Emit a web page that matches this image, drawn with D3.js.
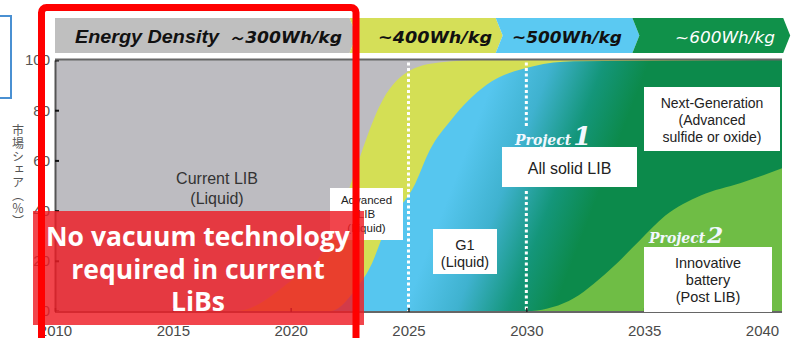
<!DOCTYPE html>
<html>
<head>
<meta charset="utf-8">
<script src="https://cdn.jsdelivr.net/npm/d3@7"></script>
<style>
  body { margin: 0; background: #fff; }
</style>
</head>
<body>
<script>
// --- data ---
var yearTicks = [2010, 2015, 2020, 2025, 2030, 2035, 2040];
var shareTicks = [0, 20, 40, 60, 80, 100];

// header bands (energy density stages), end year of each band
var bandLabels = ["～300Wh/kg", "~400Wh/kg", "~500Wh/kg", "~600Wh/kg"];
var bandEnds = [2022.5, 2028.7, 2034.5, 2040.9];

// cumulative share boundaries (% from bottom)
var advYears  = [2010, 2017.7, 2020.0, 2021.4, 2022.1, 2022.6, 2023.9, 2025.1, 2026.3, 2028, 2041];
var advShare  = [0, 0, 12, 24, 38, 52, 84, 96, 99, 100, 100];
var g1Years   = [2010, 2021.7, 2022.7, 2023.4, 2024.0, 2025.3, 2025.9, 2026.8, 2028.3, 2030.3, 2032, 2041];
var g1Share   = [0, 0, 8, 18, 32, 51, 64, 76, 90, 97.5, 99.5, 100];
var postYears = [2010, 2030.0, 2031.8, 2033.5, 2034.8, 2035.9, 2037.4, 2039.1, 2040.9];
var postShare = [0, 0, 4, 16, 28, 38, 46, 51, 57];

var yTitle = "市場シェア（％）";
var callout = ["No vacuum technology", "required in current", "LiBs"];

var width = 795, height = 338;
var sans = "Liberation Sans, Arial, sans-serif";

var svg = d3.select("body").append("svg")
  .attr("width", width)
  .attr("height", height)
  .attr("font-family", sans);

var x = d3.scaleLinear().domain([2010, 2040]).range([55, 762]);
var y = d3.scaleLinear().domain([0, 100]).range([311, 60]);
var xEnd = x(2040.85);

var defs = svg.append("defs");
defs.append("clipPath").attr("id", "plotclip")
  .append("rect").attr("x", x(2010)).attr("y", y(100))
  .attr("width", xEnd - x(2010)).attr("height", y(0) - y(100) + 1);

var grad = defs.append("linearGradient").attr("id", "bluegreen")
  .attr("gradientUnits", "userSpaceOnUse")
  .attr("x1", 462).attr("y1", 161).attr("x2", 592).attr("y2", 211);
grad.append("stop").attr("offset", 0).attr("stop-color", "#56c6ef");
grad.append("stop").attr("offset", 0.35).attr("stop-color", "#3fb2cf");
grad.append("stop").attr("offset", 0.7).attr("stop-color", "#14967a");
grad.append("stop").attr("offset", 1).attr("stop-color", "#0c8a4b");

// blue box peeking from the left
svg.append("rect").attr("x", -10).attr("y", 16).attr("width", 21).attr("height", 82)
  .attr("fill", "none").attr("stroke", "#4a90d2").attr("stroke-width", 2);

// header chevrons
var bandColors = ["#bfbfbf", "#d5df58", "#5bc9f2", "#10914a"];
var hTop = 18, hBot = 53, hMid = (hTop + hBot) / 2, tip = 7;
var bands = bandEnds.map(function(e, i) {
  return { x0: x(i === 0 ? 2010 : bandEnds[i - 1]), x1: x(e), i: i };
});
svg.selectAll(".band").data(bands).enter().append("polygon")
  .attr("class", "band")
  .attr("fill", function(d) { return bandColors[d.i]; })
  .attr("points", function(d) {
    var p = [[d.x0, hTop], [d.x1, hTop], [d.x1 + tip, hMid], [d.x1, hBot], [d.x0, hBot]];
    if (d.i > 0) p.push([d.x0 + tip, hMid]);
    return p.map(function(q) { return q.join(","); }).join(" ");
  });

svg.append("text").attr("x", 75).attr("y", 43)
  .attr("font-size", 19).attr("font-weight", "bold").attr("font-style", "italic")
  .attr("fill", "#111").attr("textLength", 144).attr("lengthAdjust", "spacingAndGlyphs")
  .text("Energy Density");

var bandTextEnd = [342, 492, 622, 775];
var bandTextLen = [114, 114, 110, 100];
svg.selectAll(".bandlabel").data(bandLabels).enter().append("text")
  .attr("class", "bandlabel")
  .attr("x", function(d, i) { return bandTextEnd[i] - bandTextLen[i]; })
  .attr("y", 43)
  .attr("font-family", "DejaVu Sans, Verdana, sans-serif")
  .attr("font-size", 16)
  .attr("font-style", "italic")
  .attr("font-weight", function(d, i) { return i === 3 ? "normal" : "bold"; })
  .attr("fill", function(d, i) { return i === 3 ? "#fff" : "#111"; })
  .attr("textLength", function(d, i) { return bandTextLen[i]; })
  .attr("lengthAdjust", "spacingAndGlyphs")
  .text(function(d) { return d; });

// plot areas
var plot = svg.append("g").attr("clip-path", "url(#plotclip)");
plot.append("rect").attr("x", x(2010)).attr("y", y(100))
  .attr("width", xEnd - x(2010)).attr("height", y(0) - y(100) + 1)
  .attr("fill", "#bdbcc1");

var area = d3.area()
  .x(function(d) { return x(d[0]); })
  .y0(y(0) + 2)
  .y1(function(d) { return y(d[1]); })
  .curve(d3.curveMonotoneX);

function zip(a, b) { return a.map(function(v, i) { return [v, b[i]]; }); }

plot.append("path").datum(zip(advYears, advShare)).attr("d", area).attr("fill", "#d4df55");
plot.append("path").datum(zip(g1Years, g1Share)).attr("d", area).attr("fill", "url(#bluegreen)");
plot.append("path").datum(zip(postYears, postShare)).attr("d", area).attr("fill", "#6fbd45");

// dotted year markers
function dotted(yr, ya, yb) {
  plot.append("line").attr("x1", x(yr)).attr("x2", x(yr))
    .attr("y1", ya).attr("y2", yb)
    .attr("stroke", "#fff").attr("stroke-width", 3).attr("stroke-dasharray", "3,2.5");
}
dotted(2025, y(99), y(0));
dotted(2030, y(99), 126);
dotted(2030, 191, y(0));

// axes
var yAxis = d3.axisLeft(y).tickValues(shareTicks).tickSizeInner(-4).tickSizeOuter(0).tickPadding(5);
var yg = svg.append("g").attr("transform", "translate(" + x(2010) + ",0)").call(yAxis);
yg.attr("font-family", sans);
yg.select(".domain").attr("stroke", "#555").attr("stroke-width", 2);
yg.selectAll(".tick line").attr("stroke", "#111").attr("stroke-width", 2);
yg.selectAll(".tick text").attr("font-size", 15).attr("fill", "#555");

var xAxis = d3.axisBottom(x).tickValues(yearTicks).tickFormat(d3.format("d"))
  .tickSizeInner(-4).tickSizeOuter(0).tickPadding(13);
var xg = svg.append("g").attr("transform", "translate(0," + (y(0) + 1) + ")").call(xAxis);
xg.attr("font-family", sans);
xg.select(".domain").attr("d", "M" + x(2010) + ",0H" + xEnd).attr("stroke", "#666").attr("stroke-width", 2);
xg.selectAll(".tick line").attr("stroke", "#222").attr("stroke-width", 1.5);
xg.selectAll(".tick text").attr("font-size", 15).attr("fill", "#4a4a4a");

svg.append("line").attr("x1", x(2010)).attr("x2", xEnd).attr("y1", y(100) - 0.5).attr("y2", y(100) - 0.5)
  .attr("stroke", "#666").attr("stroke-width", 2);

// vertical Japanese axis title
svg.append("text")
  .attr("x", 18).attr("y", 124)
  .attr("font-family", "Noto Sans CJK JP, sans-serif")
  .attr("font-size", 12).attr("fill", "#555")
  .attr("letter-spacing", 1)
  .style("writing-mode", "vertical-rl")
  .text(yTitle);

// labels
function boxLabel(bx, by, bw, bh, lines, cy, lh, fs) {
  svg.append("rect").attr("x", bx).attr("y", by).attr("width", bw).attr("height", bh).attr("fill", "#fff");
  var t = svg.append("text").attr("text-anchor", "middle").attr("font-size", fs).attr("fill", "#222");
  lines.forEach(function(l, i) {
    t.append("tspan").attr("x", bx + bw / 2).attr("y", cy + i * lh).attr("dy", "0.35em").text(l);
  });
}

var cur = svg.append("text").attr("text-anchor", "middle").attr("font-size", 16).attr("fill", "#333");
cur.append("tspan").attr("x", 217).attr("y", 178).attr("dy", "0.35em").text("Current  LIB");
cur.append("tspan").attr("x", 217).attr("y", 198).attr("dy", "0.35em").text("(Liquid)");

boxLabel(330, 188, 73, 52, ["Advanced", "LIB", "(Liquid)"], 200, 14, 11.5);
boxLabel(433, 229, 64, 45, ["G1", "(Liquid)"], 245, 17, 14.5);
boxLabel(502, 147, 135, 40, ["All solid LIB"], 168, 0, 16);
boxLabel(644, 87, 136, 64, ["Next-Generation", "(Advanced", "sulfide or oxide)"], 103, 17, 14);
boxLabel(644, 247, 128, 65, ["Innovative", "battery", "(Post LIB)"], 263, 17, 14.5);

function project(px, py, num, big) {
  var t = svg.append("text").attr("x", px).attr("y", py)
    .attr("font-family", "DejaVu Serif, Liberation Serif, serif")
    .attr("font-weight", "bold").attr("font-style", "italic").attr("fill", "#f2f8ff");
  t.append("tspan").attr("font-size", 14).text("Project");
  t.append("tspan").attr("font-size", big).attr("dx", 2).text(num);
}
project(515, 145, "1", 26);
project(649, 243, "2", 23);

// red callout
svg.append("rect").attr("x", 33).attr("y", 211).attr("width", 331).attr("height", 114)
  .attr("fill", "#ee1c24").attr("opacity", 0.82);
var ct = svg.append("text")
  .attr("text-anchor", "middle")
  .attr("font-family", "Open Sans, sans-serif")
  .attr("font-weight", "bold").attr("font-size", 26.5).attr("fill", "#fff");
callout.forEach(function(l, i) {
  ct.append("tspan").attr("x", 198).attr("y", 246 + i * 32.5).text(l);
});

svg.append("rect").attr("x", 41.5).attr("y", 7.5).attr("width", 314.5).attr("height", 345)
  .attr("rx", 5).attr("fill", "none").attr("stroke", "#ff0000").attr("stroke-width", 7);
</script>
</body>
</html>
